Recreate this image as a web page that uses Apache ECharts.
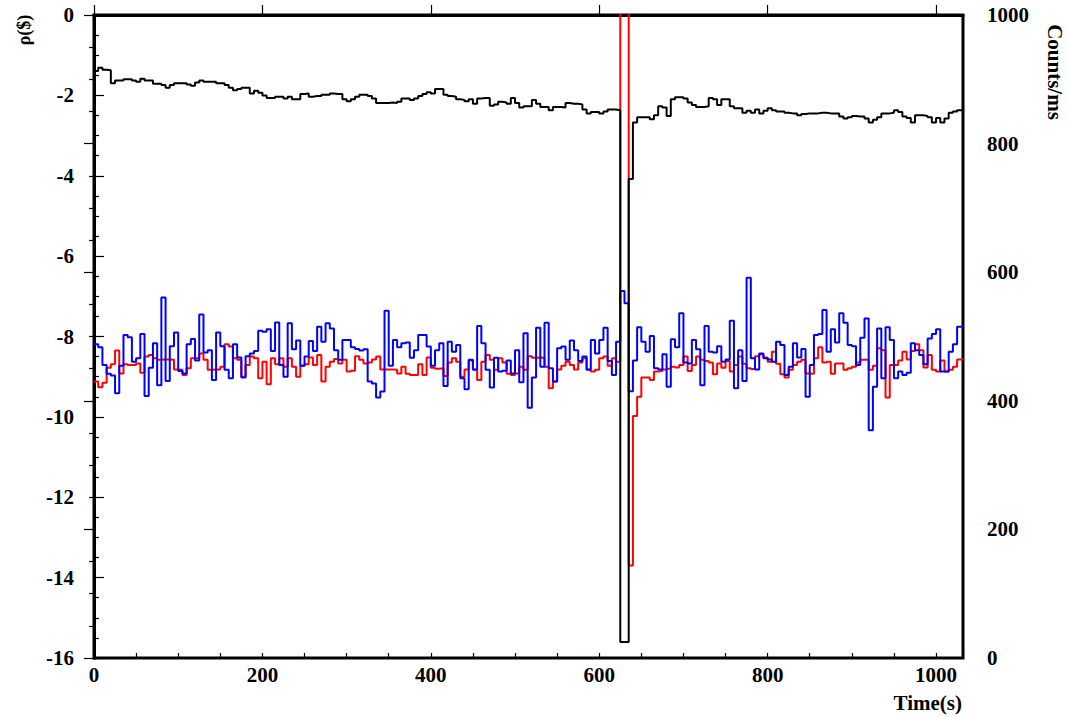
<!DOCTYPE html>
<html>
<head>
<meta charset="utf-8">
<script src="https://cdn.jsdelivr.net/npm/echarts@6/dist/echarts.min.js"></script>
<style>
html,body{margin:0;padding:0;background:#fff;}
#main{width:1068px;height:717px;}
</style>
</head>
<body>
<div id="main"></div>
<script>
// bins of 5 s
var BIN_WIDTH = 5;
var T_MAX = 1032;
var xTickLabels = [0, 200, 400, 600, 800, 1000];
var rhoTicks = [0, -2, -4, -6, -8, -10, -12, -14, -16];
var countTicks = [0, 200, 400, 600, 800, 1000];

// counts/ms (right axis), black
var counts = [
 913,918,915,914,894,898,898,900,900,898,
 896,901,898,898,893,893,891,887,891,894,
 894,894,892,890,895,898,896,896,896,894,
 894,891,887,883,885,887,887,878,882,879,
 875,871,871,873,873,870,873,869,869,877,
 878,873,874,874,876,876,878,877,877,869,
 866,869,873,876,876,874,870,863,863,863,
 864,863,865,870,870,868,870,874,877,880,
 878,885,885,876,874,873,869,868,866,869,
 862,870,871,871,859,861,865,864,862,871,
 863,856,858,858,868,862,857,857,852,857,
 857,856,863,862,862,861,853,847,849,849,
 847,850,853,853,852,25,25,745,833,841,
 841,841,838,844,858,856,843,869,872,872,
 870,864,860,857,857,858,871,869,860,869,
 869,858,855,855,848,851,848,853,847,851,
 855,852,850,850,848,847,847,844,846,847,
 847,847,848,848,847,847,847,842,839,841,
 843,842,842,839,833,837,841,847,847,848,
 852,849,842,840,833,844,844,843,841,833,
 840,833,839,848,850,852
];

// reactivity ($), blue
var rhoBlue = [
 -8.19,-8.27,-8.71,-8.93,-8.97,-9.41,-8.73,-7.96,-8.02,-8.63,
 -8.54,-7.94,-9.48,-8.78,-8.17,-9.21,-7.03,-9.11,-8.24,-7.90,
 -8.86,-8.92,-8.19,-8.06,-8.60,-7.45,-8.40,-8.34,-9.08,-7.90,
 -8.24,-8.83,-9.04,-8.19,-8.52,-9.02,-8.49,-8.42,-8.36,-7.86,
 -7.88,-7.82,-8.36,-7.65,-8.71,-9.00,-7.67,-8.32,-8.10,-8.73,
 -8.50,-8.11,-8.36,-7.76,-8.13,-7.67,-7.80,-8.34,-8.58,-8.09,
 -8.09,-8.27,-8.31,-8.35,
 -8.32,-9.12,-9.17,-9.52,-9.37,-7.36,-8.73,-8.09,-8.27,-8.17,
 -8.15,-8.53,-8.34,-7.96,-7.96,-8.25,-8.73,-8.34,-8.17,-9.23,
 -8.13,-8.38,-8.21,-9.04,-9.31,-8.58,-8.82,-7.74,-8.17,-8.83,
 -9.27,-8.53,-8.87,-8.85,-8.60,-8.92,-8.34,-9.14,-7.92,-9.77,
 -9.02,-7.78,-8.75,-7.66,-8.79,-9.12,-8.29,-8.25,-8.58,-8.10,
 -8.34,-8.61,-8.50,-8.82,-8.09,-8.42,-8.09,-7.78,-8.61,-8.96,
 -8.13,-6.87,-7.17,
 -9.36,-8.60,-7.77,-8.13,-8.38,-7.99,-8.79,-8.82,-8.44,-9.25,
 -8.07,-8.27,-7.42,-8.65,-8.67,-8.09,-8.32,-9.21,-7.74,-8.38,
 -8.40,-8.24,-8.63,-8.57,-7.61,-9.29,-8.34,-9.11,-6.54,-8.54,
 -8.82,-8.42,-8.54,-8.57,-8.63,-8.13,-8.21,-8.96,-8.75,-8.17,
 -8.52,-8.31,-9.50,-8.71,-7.96,-7.94,-7.34,-8.38,-7.82,-8.15,
 -7.42,-7.66,-8.21,-8.24,-8.71,-8.03,-7.55,-10.33,-9.25,-7.80,
 -9.04,-7.77,-8.09,-9.04,-8.87,-8.96,-8.90,-8.17,-8.34,-8.46,
 -8.69,-8.05,-7.94,-7.82,-8.87,-8.87,-8.38,-8.19,-7.76
];

// reactivity ($), red
var rhoRed = [
 -9.12,-9.26,-9.15,-8.78,-8.69,-8.35,-8.92,-8.69,-8.71,-8.71,
 -8.67,-8.90,-8.50,-8.46,-8.54,-8.58,-8.57,-8.57,-8.58,-8.82,
 -8.83,-8.96,-8.79,-8.54,-8.54,-8.42,-8.58,-8.83,-8.82,-8.82,
 -8.75,-8.19,-8.25,-8.54,-8.58,-9.00,-8.71,-8.50,-8.54,-9.04,
 -8.63,-9.19,-8.54,-8.69,-8.54,-8.75,-8.54,-8.75,-9.00,-8.73,
 -8.69,-8.52,-8.71,-8.46,-9.12,-8.75,-8.63,-8.56,-8.67,-8.58,
 -8.87,-8.85,-8.49,-8.58,
 -8.67,-8.65,-8.57,-8.50,-8.82,-8.82,-8.82,-8.83,-8.92,-8.75,
 -8.93,-8.96,-8.96,-8.69,-8.96,-8.52,-8.78,-8.80,-8.79,-8.98,
 -8.65,-8.54,-8.63,-9.00,-8.82,-8.60,-8.83,-9.08,-8.63,-8.46,
 -8.58,-8.83,-8.54,-8.65,-8.93,-8.96,-8.92,-8.75,-8.83,-8.49,
 -8.53,-8.52,-8.53,-8.75,-9.29,-9.12,-8.82,-8.73,-8.63,-8.71,
 -8.82,-8.65,-8.54,-8.83,-8.87,-8.83,-8.54,-8.50,-8.73,-8.54,
 -8.63,
 2.0,2.0,-13.7,
 -9.98,-9.50,-9.02,-9.02,-9.08,-8.87,-8.86,-8.82,-8.80,-8.75,
 -8.77,-8.71,-8.50,-8.86,-8.71,-8.50,-8.58,-8.61,-8.65,-8.94,
 -8.67,-8.78,-8.61,-8.87,-8.71,-8.50,-8.68,-8.79,-8.81,-8.49,
 -8.44,-8.52,-8.63,-8.38,-8.68,-8.94,-9.02,-8.83,-8.71,-8.63,
 -8.58,-8.92,-8.93,-8.54,-8.27,-8.65,-8.63,-8.93,-8.67,-8.67,
 -8.83,-8.79,-8.75,-8.65,-8.58,-8.58,-8.83,-8.73,-8.29,-8.34,
 -9.52,-8.71,-8.71,-8.60,-8.38,-8.57,-8.36,-8.19,-8.34,-8.77,
 -8.46,-8.83,-8.87,-8.60,-8.87,-8.83,-8.75,-8.57
];

function histo(vals){
	var out = [];
	for (var i = 0; i < vals.length; i++) out.push([i * BIN_WIDTH, vals[i]]);
	out.push([T_MAX, vals[vals.length - 1]]);	// close last bin at the frame
	return out;
}

var FONT = '"Liberation Serif", "DejaVu Serif", serif';
var labelStyle = { fontFamily: FONT, fontWeight: 'bold', fontSize: 21, color: '#000' };

var myChart = echarts.init(document.getElementById('main'), null, { renderer: 'svg' });

var option = {
	animation: false,
	backgroundColor: '#fff',
	grid: {
		left: 94, right: 105, top: 15, bottom: 59,
		show: true, borderColor: '#000', borderWidth: 3, backgroundColor: 'transparent'
	},
	xAxis: [{
		type: 'value', min: 0, max: T_MAX, interval: 200, position: 'bottom',
		axisLine: { show: true, lineStyle: { color: '#000', width: 3 } },
		axisTick: { show: true, inside: true, length: 10, lineStyle: { color: '#000', width: 1.2 } },
		axisLabel: Object.assign({ margin: 6, showMaxLabel: false,
			formatter: function(v){ return xTickLabels.indexOf(v) >= 0 ? String(v) : ''; } }, labelStyle),
		splitLine: { show: false }
	}, {
		// minor ticks every 50 s
		type: 'value', min: 0, max: T_MAX, interval: 50, position: 'bottom',
		axisLine: { show: false },
		axisTick: { show: true, inside: true, length: 5, lineStyle: { color: '#000', width: 1.2 } },
		axisLabel: { show: false },
		splitLine: { show: false }
	}],
	yAxis: [{
		type: 'value', min: -16, max: 0, interval: 2, position: 'left',
		axisLine: { show: true, lineStyle: { color: '#000', width: 3 } },
		axisTick: { show: true, inside: true, length: 10, lineStyle: { color: '#000', width: 1.2 } },
		minorTick: { show: true, splitNumber: 4, length: 5, lineStyle: { color: '#000', width: 1.2 } },
		axisLabel: Object.assign({ margin: 20,
			formatter: function(v){ return rhoTicks.indexOf(v) >= 0 ? String(v) : ''; } }, labelStyle),
		splitLine: { show: false }
	}, {
		type: 'value', min: 0, max: 1000, interval: 200, position: 'right',
		axisLine: { show: true, lineStyle: { color: '#000', width: 3 } },
		axisTick: { show: true, inside: true, length: 10, lineStyle: { color: '#000', width: 1.2 } },
		minorTick: { show: true, splitNumber: 4, length: 5, lineStyle: { color: '#000', width: 1.2 } },
		axisLabel: Object.assign({ margin: 24,
			formatter: function(v){ return countTicks.indexOf(v) >= 0 ? String(v) : ''; } }, labelStyle),
		splitLine: { show: false }
	}],
	series: [{
		name: 'rho red', type: 'line', step: 'end', xAxisIndex: 0, yAxisIndex: 0,
		data: histo(rhoRed), showSymbol: false, clip: true,
		lineStyle: { color: '#ff0000', width: 2 }
	}, {
		name: 'rho blue', type: 'line', step: 'end', xAxisIndex: 0, yAxisIndex: 0,
		data: histo(rhoBlue), showSymbol: false, clip: true,
		lineStyle: { color: '#0000ff', width: 2 }
	}, {
		name: 'Counts/ms', type: 'line', step: 'end', xAxisIndex: 0, yAxisIndex: 1,
		data: histo(counts), showSymbol: false, clip: true,
		lineStyle: { color: '#000', width: 2 }
	}],
	graphic: [{
		type: 'text', x: 24, y: 30, rotation: Math.PI / 2,
		style: { text: 'ρ($)', x: 0, y: 0, align: 'center', verticalAlign: 'middle',
			textAlign: 'center', textVerticalAlign: 'middle',
			font: 'bold 18px ' + FONT, fill: '#000' }
	}, {
		type: 'text', x: 1055, y: 72, rotation: -Math.PI / 2,
		style: { text: 'Counts/ms', x: 0, y: 0, align: 'center', verticalAlign: 'middle',
			textAlign: 'center', textVerticalAlign: 'middle',
			font: 'bold 21px ' + FONT, fill: '#000' }
	}, {
		type: 'text', x: 962, y: 703,
		style: { text: 'Time(s)', x: 0, y: 0, align: 'right', verticalAlign: 'middle',
			textAlign: 'right', textVerticalAlign: 'middle',
			font: 'bold 21px ' + FONT, fill: '#000' }
	}]
};

myChart.setOption(option);
</script>
</body>
</html>
